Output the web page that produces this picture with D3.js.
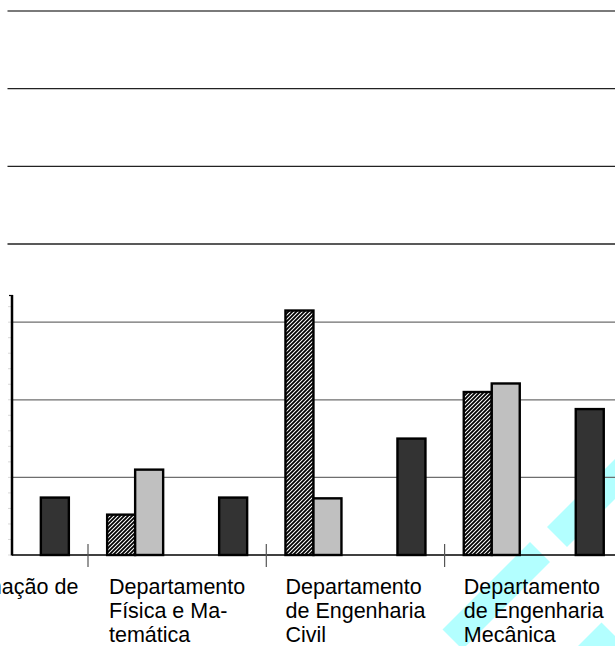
<!DOCTYPE html>
<html>
<head>
<meta charset="utf-8">
<script src="https://cdn.jsdelivr.net/npm/d3@7"></script>
<style>
  html, body { margin: 0; padding: 0; background: #fff; }
  svg { display: block; }
  text { font-family: "Liberation Sans", Arial, sans-serif; }
</style>
</head>
<body>
<svg id="chart" width="615" height="646"></svg>
<script>
// Category labels, one array of wrapped lines per department
const categoryLabels = [
  ["Coordenação de"],
  ["Departamento", "Física e Ma-", "temática"],
  ["Departamento", "de Engenharia", "Civil"],
  ["Departamento", "de Engenharia", "Mecânica"]
];

// Series values per category (null = no bar)
const seriesKeys = ["A", "B", "C", "D", "E"];
const valuesA = [null, 5.2, 31.5, 21.0];   // hatched
const valuesB = [null, 11.0, 7.3, 22.1];   // light grey
const valuesC = [null, null, null, null];
const valuesD = [null, null, null, null];
const valuesE = [7.4, 7.4, 15.0, 18.8];    // dark grey

// Gridline values of the value axis
const gridValues = [10, 20, 30];
const yMax = 33.5;

const svg = d3.select("#chart");
const W = 615;

const seriesValues = { A: valuesA, B: valuesB, C: valuesC, D: valuesD, E: valuesE };
const seriesFill = { A: "url(#hatch)", B: "#c0c0c0", C: "#ffffff", D: "#ffffff", E: "#333333" };

// Diagonal hatch pattern
const defs = svg.append("defs");
const pat = defs.append("pattern")
  .attr("id", "hatch").attr("patternUnits", "userSpaceOnUse")
  .attr("width", 4).attr("height", 4);
pat.append("rect").attr("width", 4).attr("height", 4).attr("fill", "#fff");
pat.append("path")
  .attr("d", "M-1,1 l2,-2 M0,4 l4,-4 M3,5 l2,-2")
  .attr("stroke", "#000").attr("stroke-width", 1.8);

// Light cyan diagonal stripes in the lower right (x+y range, x-y range)
const stripes = [
  { s: [1072, 1112], d: [-187, -12] },
  { s: [1074, 1114], d: [20, 260] },
  { s: [1224, 1264], d: [-300, -21] }
];
svg.append("g").selectAll("polygon").data(stripes).join("polygon")
  .attr("points", st => {
    const c = [[st.s[0], st.d[0]], [st.s[0], st.d[1]], [st.s[1], st.d[1]], [st.s[1], st.d[0]]];
    return c.map(([s, d]) => [(s + d) / 2, (s - d) / 2].join(",")).join(" ");
  })
  .attr("fill", "#b3ffff");

// Lines of the upper panel
const topPanel = d3.scaleLinear().domain([0, 3]).range([11, 244]);
svg.append("g").selectAll("line").data([0, 1, 2, 3]).join("line")
  .attr("x1", 7.5).attr("x2", W)
  .attr("y1", d => topPanel(d)).attr("y2", d => topPanel(d))
  .attr("stroke", d => d === 0 ? "#7a7a7a" : "#222")
  .attr("stroke-width", d => d === 0 ? 2 : 1.4);

// Scales of the bar chart
const axisX = 12;
const y = d3.scaleLinear().domain([0, yMax]).range([555, 295]);
const step = 178.3;
const x0 = d3.scaleBand()
  .domain(d3.range(categoryLabels.length))
  .range([88 - step, 88 + step * (categoryLabels.length - 1)])
  .padding(0);
const x1 = d3.scaleBand().domain(seriesKeys).range([19.15, 159.15]).padding(0);

// Gridlines
svg.append("g").selectAll("line").data(gridValues).join("line")
  .attr("x1", axisX).attr("x2", W)
  .attr("y1", d => y(d)).attr("y2", d => y(d))
  .attr("stroke", "#6e6e6e").attr("stroke-width", 1.3);

// Bars
const barData = [];
categoryLabels.forEach((_, i) => {
  seriesKeys.forEach(k => {
    const v = seriesValues[k][i];
    if (v != null) barData.push({ i, k, v });
  });
});
svg.append("g").selectAll("rect").data(barData).join("rect")
  .attr("x", d => x0(d.i) + x1(d.k))
  .attr("width", x1.bandwidth())
  .attr("y", d => y(d.v))
  .attr("height", d => y(0) - y(d.v))
  .attr("fill", d => seriesFill[d.k])
  .attr("stroke", "#000").attr("stroke-width", 2.4);

// Baseline and category separators
svg.append("line")
  .attr("x1", axisX).attr("x2", W)
  .attr("y1", y(0)).attr("y2", y(0))
  .attr("stroke", "#000").attr("stroke-width", 1.5);
svg.append("g").selectAll("line").data(d3.range(1, categoryLabels.length)).join("line")
  .attr("x1", i => x0(i)).attr("x2", i => x0(i))
  .attr("y1", y(0) - 11).attr("y2", y(0) + 12)
  .attr("stroke", "#555").attr("stroke-width", 1.2);

// Value axis with faint minor ticks
const minor = d3.range(0, yMax, 2);
svg.append("g").selectAll("line").data(minor).join("line")
  .attr("x1", axisX - 4).attr("x2", axisX - 1)
  .attr("y1", d => y(d)).attr("y2", d => y(d))
  .attr("stroke", "#d8d8d8").attr("stroke-width", 1);
svg.append("line")
  .attr("x1", axisX).attr("x2", axisX)
  .attr("y1", y(yMax)).attr("y2", y(0) + 0.5)
  .attr("stroke", "#000").attr("stroke-width", 2.5);
svg.append("line")
  .attr("x1", axisX - 3).attr("x2", axisX + 1)
  .attr("y1", y(yMax) + 0.5).attr("y2", y(yMax) + 0.5)
  .attr("stroke", "#000").attr("stroke-width", 1.2);

// Category labels: lines left-aligned, block centred under the category
const fontSize = 21.5;
const lineY = [593.5, 618, 642];
const labels = svg.append("g");
categoryLabels.forEach((lines, i) => {
  const g = labels.append("g");
  const texts = lines.map((ln, j) => g.append("text")
    .attr("y", lineY[j])
    .attr("font-size", fontSize)
    .attr("fill", "#000")
    .text(ln));
  const wMax = d3.max(texts, t => t.node().getComputedTextLength());
  const left = x0(i) + x0.bandwidth() / 2 - wMax / 2;
  texts.forEach(t => t.attr("x", left));
});
</script>
</body>
</html>
